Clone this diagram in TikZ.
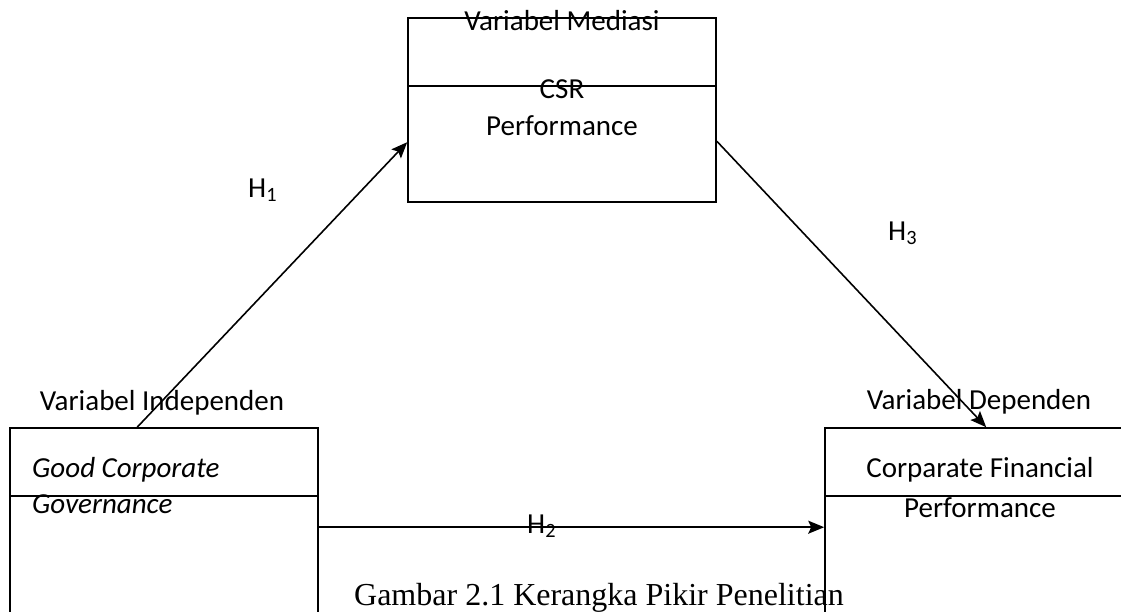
\documentclass[tikz,border=0pt]{standalone}
\usepackage{fontspec}
\setmainfont{Carlito}
\newfontfamily\capfont{Liberation Serif}
\usetikzlibrary{arrows.meta,calc}
\begin{document}
\begin{tikzpicture}[x=1pt,y=-1pt,
  box/.style={draw,line width=1.6pt,inner sep=0pt,rectangle},
  lbl/.style={inner sep=0pt,anchor=base,font=\fontsize{29}{35}\selectfont},
  arr/.style={line width=1.6pt,-{Stealth[length=16pt,width=13pt,inset=3pt]}}]
\useasboundingbox (0,0) rectangle (1121,611);
\clip (0,0) rectangle (1121,611);
% boxes
\node[box,minimum width=308pt,minimum height=184pt] (med) at (562,110) {};
\node[box,minimum width=308pt,minimum height=232pt] (ind) at (164,544) {};
\node[box,minimum width=315pt,minimum height=232pt] (dep) at (982.5,544) {};
% inner dividing lines
\draw[line width=1.6pt] ($(med.north west)+(0,69)$) -- ($(med.north east)+(0,69)$);
\draw[line width=1.6pt] ($(ind.north west)+(0,69)$) -- ($(ind.north east)+(0,69)$);
\draw[line width=1.6pt] ($(dep.north west)+(0,69)$) -- ($(dep.north east)+(0,69)$);
% texts
\node[lbl] (tmed) at (562,30) {Variabel Mediasi};
\node[lbl] (tcsr) at (562,98) {CSR};
\node[lbl] (tperf) at (562,135) {Performance};
\node[lbl] (tind) at (162,410) {Variabel Independen};
\node[lbl,anchor=base west] (tgcg1) at (32,477) {\itshape Good Corporate};
\node[lbl,anchor=base west] (tgcg2) at (32,513) {\itshape Governance};
\node[lbl] (tdep) at (979,409) {Variabel Dependen};
\node[lbl] (tcfp1) at (980,477) {Corparate Financial};
\node[lbl] (tcfp2) at (980,517) {Performance};
\node[lbl,anchor=base west] (h1) at (248,197) {H\textsubscript{1}};
\node[lbl,anchor=base west] (h3) at (888,240) {H\textsubscript{3}};
\node[lbl,anchor=base west] (h2) at (527,533) {H\textsubscript{2}};
\node[inner sep=0pt,anchor=base,font=\capfont\fontsize{32}{38}\selectfont] (cap) at (599,605) {Gambar 2.1 Kerangka Pikir Penelitian};
% connectors
\coordinate (h1s) at ($(ind.north west)+(128,0)$);
\coordinate (h1e) at ($(med.north west)+(0,125)$);
\coordinate (h3s) at ($(med.north east)+(0,124)$);
\coordinate (h3e) at ($(dep.north west)+(162,0)$);
\coordinate (h2s) at ($(ind.north east)+(0,100)$);
\coordinate (h2e) at ($(dep.north west)+(0,100)$);
\draw[arr] (h1s) -- (h1e);
\draw[arr] (h3s) -- (h3e);
\draw[arr] (h2s) -- (h2e);
\end{tikzpicture}
\end{document}
